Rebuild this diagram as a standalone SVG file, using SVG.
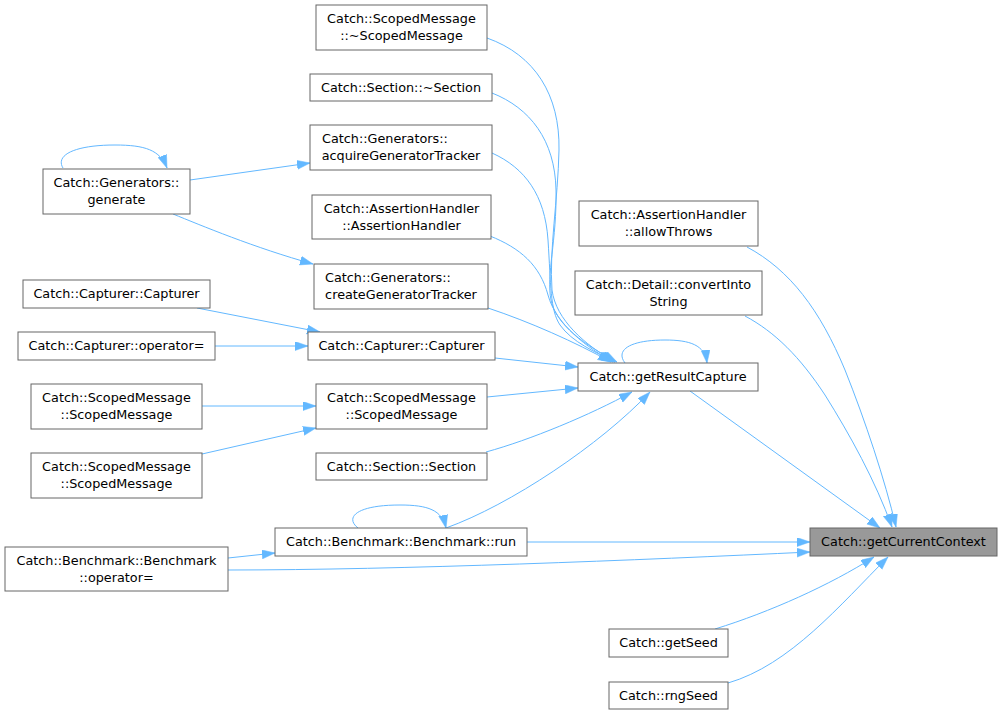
<svg xmlns="http://www.w3.org/2000/svg" width="1002" height="715" viewBox="0 0 1002 715">
<style>
.n rect{fill:#fff;stroke:#666;stroke-width:1}
.n text{font-family:"DejaVu Sans",sans-serif;font-size:12.8px;fill:#000;text-anchor:middle}
.n text.s{text-anchor:start}
#n_gcc rect{fill:#999}
.e path{fill:none;stroke:#63b8ff;stroke-width:1;marker-end:url(#ah)}
</style>
<defs>
<marker id="ah" markerUnits="userSpaceOnUse" markerWidth="13" markerHeight="10" refX="13" refY="4.5" orient="auto">
<path d="M0,0 L13,4.5 L0,9 z" fill="#63b8ff" stroke="#63b8ff" stroke-width="0.5"/>
</marker>
</defs>
<rect width="1002" height="715" fill="#fff"/>
<g class="e" id="edges">
<path d="M63,168 C55,155 75,145 115,145 C145,145 160,150 167,168"/>
<path d="M190,180 L310,163"/>
<path d="M173,214 C200,225 255,248 313,264"/>
<path d="M197,308 L320,332"/>
<path d="M215,346 L308,346"/>
<path d="M202,406 L316,406"/>
<path d="M202,454 L316,428"/>
<path d="M228,558 L275,553"/>
<path d="M358,528 C345,518 355,505 400,505 C428,505 442,510 446,528"/>
<path d="M487,38 C535,55 560,95 559,150 C558,200 549,250 552,290 C556,320 585,345 615,362"/>
<path d="M492,93 C530,108 555,140 556,190 C557,240 546,275 551,300 C556,325 585,345 617,362"/>
<path d="M492,153 C525,168 545,195 548,240 C551,285 550,310 560,325 C572,342 595,352 615,362"/>
<path d="M490,236 C520,248 540,265 548,295 C556,325 588,348 613,362"/>
<path d="M488,308 C530,322 575,342 611,362"/>
<path d="M495,358 L578,367"/>
<path d="M487,397 L578,388"/>
<path d="M486,452 C530,440 590,415 632,392"/>
<path d="M446,528 C510,505 600,445 650,392"/>
<path d="M625,363 C615,350 630,340 665,340 C690,340 705,345 707,363"/>
<path d="M690,391 L880,528"/>
<path d="M747,247 C790,270 820,310 845,370 C865,420 885,480 896,527"/>
<path d="M745,316 C775,332 800,357 825,395 C850,435 875,480 892,527"/>
<path d="M527,542 L810,542"/>
<path d="M228,570 C400,570 640,560 810,552"/>
<path d="M715,629 C770,612 830,585 874,557"/>
<path d="M728,683 C790,665 840,605 888,557"/>
</g>
<g class="n" id="n_smdtor"><rect x="316" y="5" width="171" height="45"/><text x="401.5" y="23">Catch::ScopedMessage</text><text x="401.5" y="40">::~ScopedMessage</text></g>
<g class="n" id="n_secdtor"><rect x="310" y="74" width="182" height="27"/><text x="401" y="92">Catch::Section::~Section</text></g>
<g class="n" id="n_acq"><rect x="310" y="125" width="182" height="45"/><text class="s" x="322" y="143">Catch::Generators::</text><text x="401" y="160">acquireGeneratorTracker</text></g>
<g class="n" id="n_ah"><rect x="312" y="195" width="179" height="44"/><text x="401.5" y="213">Catch::AssertionHandler</text><text x="401.5" y="230">::AssertionHandler</text></g>
<g class="n" id="n_cgt"><rect x="314" y="264" width="174" height="45"/><text class="s" x="325" y="282">Catch::Generators::</text><text x="401" y="299">createGeneratorTracker</text></g>
<g class="n" id="n_gen"><rect x="43" y="169" width="147" height="45"/><text x="116.5" y="187">Catch::Generators::</text><text x="116.5" y="204">generate</text></g>
<g class="n" id="n_capL"><rect x="23" y="280" width="187" height="28"/><text x="116.5" y="298">Catch::Capturer::Capturer</text></g>
<g class="n" id="n_capOp"><rect x="18" y="332" width="197" height="28"/><text x="116.5" y="350">Catch::Capturer::operator=</text></g>
<g class="n" id="n_capM"><rect x="308" y="332" width="187" height="28"/><text x="401.5" y="350">Catch::Capturer::Capturer</text></g>
<g class="n" id="n_smM"><rect x="316" y="384" width="171" height="45"/><text x="401.5" y="402">Catch::ScopedMessage</text><text x="401.5" y="419">::ScopedMessage</text></g>
<g class="n" id="n_sm1"><rect x="31" y="384" width="171" height="45"/><text x="116.5" y="402">Catch::ScopedMessage</text><text x="116.5" y="419">::ScopedMessage</text></g>
<g class="n" id="n_sm2"><rect x="31" y="453" width="171" height="45"/><text x="116.5" y="471">Catch::ScopedMessage</text><text x="116.5" y="488">::ScopedMessage</text></g>
<g class="n" id="n_sec"><rect x="316" y="453" width="171" height="27"/><text x="401.5" y="471">Catch::Section::Section</text></g>
<g class="n" id="n_run"><rect x="275" y="528" width="252" height="28"/><text x="401" y="546">Catch::Benchmark::Benchmark::run</text></g>
<g class="n" id="n_bop"><rect x="5" y="547" width="223" height="44"/><text x="116.5" y="565">Catch::Benchmark::Benchmark</text><text x="116.5" y="582">::operator=</text></g>
<g class="n" id="n_grc"><rect x="578" y="363" width="180" height="28"/><text x="668" y="381">Catch::getResultCapture</text></g>
<g class="n" id="n_at"><rect x="579" y="201" width="179" height="45"/><text x="668.5" y="219">Catch::AssertionHandler</text><text x="668.5" y="236">::allowThrows</text></g>
<g class="n" id="n_cis"><rect x="575" y="271" width="187" height="44"/><text x="668.5" y="289">Catch::Detail::convertInto</text><text x="668.5" y="306">String</text></g>
<g class="n" id="n_gcc"><rect x="810" y="528" width="187" height="28"/><text x="903.5" y="546">Catch::getCurrentContext</text></g>
<g class="n" id="n_seed"><rect x="609" y="629" width="119" height="28"/><text x="668.5" y="647">Catch::getSeed</text></g>
<g class="n" id="n_rng"><rect x="609" y="682" width="119" height="27"/><text x="668.5" y="700">Catch::rngSeed</text></g>
</svg>
